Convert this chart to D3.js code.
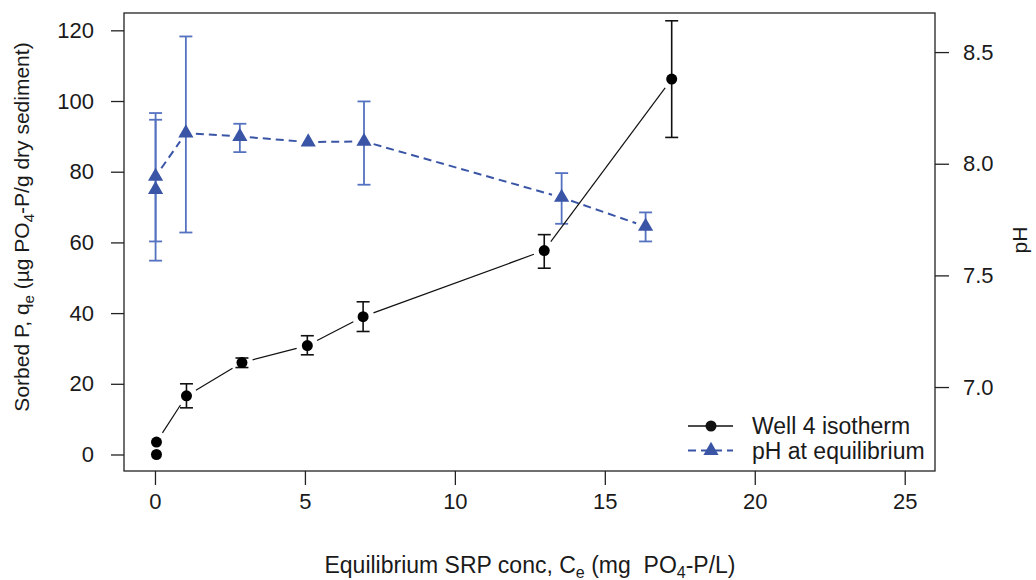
<!DOCTYPE html>
<html lang="en">
  <head>
    <meta charset="utf-8" />
    <title>Well 4 isotherm and pH</title>
    <script src="https://d3js.org/d3.v7.min.js"></script>
    <style>
      body {
        margin: 0;
        background: #fff;
      }
      svg text {
        font-family: "Liberation Sans", Arial, sans-serif;
        fill: #1a1a1a;
      }
    </style>
  </head>
  <body>
    <svg width="1036" height="580"></svg>
    <script>

    // Well 4 isotherm: Ce (mg PO4-P/L) vs sorbed P (ug PO4-P/g)
    var isoX  = [0.05, 0.05, 1.05, 2.90, 5.08, 6.94, 12.98, 17.23];
    var isoY  = [0.0, 3.5, 16.6, 26.0, 30.8, 39.0, 57.7, 106.2];
    var isoLo = [null, null, 13.2, 24.6, 28.2, 34.8, 52.7, 89.7];
    var isoHi = [null, null, 20.0, 27.3, 33.6, 43.2, 62.2, 122.7];

    // pH at equilibrium
    var phX  = [0.02, 0.02, 1.03, 2.83, 5.11, 6.97, 13.56, 16.36];
    var phY  = [7.884, 7.943, 8.137, 8.122, 8.097, 8.100, 7.849, 7.719];
    var phLo = [7.566, 7.652, 7.692, 8.052, null, 7.906, 7.731, 7.652];
    var phHi = [8.227, 8.197, 8.570, 8.179, null, 8.279, 7.958, 7.782];

    var xTicks = [0, 5, 10, 15, 20, 25],
        yTicks = [0, 20, 40, 60, 80, 100, 120],
        pHTicks = [7.0, 7.5, 8.0, 8.5];

    var blue = "#3a55a6",
        blueBar = "#5572c0";

    var svg = d3.select("svg"),
        box = {left: 124, right: 935, top: 13, bottom: 471};

    var x = d3.scaleLinear().domain([-1.033, 26.01]).range([box.left, box.right]),
        y = d3.scaleLinear().domain([-4.67, 124.9]).range([box.bottom, box.top]),
        y2 = d3.scaleLinear().domain([6.624, 8.675]).range([box.bottom, box.top]);

    var iso = isoX.map(function(d, i) {
      return {x: d, y: isoY[i], lo: isoLo[i], hi: isoHi[i]};
    });
    var ph = phX.map(function(d, i) {
      return {x: d, y: phY[i], lo: phLo[i], hi: phHi[i]};
    });

    // axes
    svg.append("g")
        .attr("transform", "translate(0," + box.bottom + ")")
        .call(d3.axisBottom(x).tickValues(xTicks).tickSize(14).tickPadding(8).tickFormat(d3.format("d")))
        .call(styleAxis);

    svg.append("g")
        .attr("transform", "translate(" + box.left + ",0)")
        .call(d3.axisLeft(y).tickValues(yTicks).tickSize(13).tickPadding(17).tickFormat(d3.format("d")))
        .call(styleAxis);

    svg.append("g")
        .attr("transform", "translate(" + box.right + ",0)")
        .call(d3.axisRight(y2).tickValues(pHTicks).tickSize(14).tickPadding(14).tickFormat(d3.format(".1f")))
        .call(styleAxis);

    function styleAxis(g) {
      g.select(".domain").remove();
      g.selectAll(".tick line").attr("stroke", "#222").attr("stroke-width", 1.3);
      g.selectAll(".tick text")
          .attr("font-size", 22)
          .attr("font-family", "Liberation Sans, Arial, sans-serif")
          .attr("fill", "#1a1a1a");
    }

    svg.append("rect")
        .attr("x", box.left)
        .attr("y", box.top)
        .attr("width", box.right - box.left)
        .attr("height", box.bottom - box.top)
        .attr("fill", "none")
        .attr("stroke", "#222")
        .attr("stroke-width", 1.3);

    // axis titles
    var xt = svg.append("text")
        .attr("x", 530)
        .attr("y", 573)
        .attr("text-anchor", "middle")
        .attr("font-size", 23);
    xt.append("tspan").text("Equilibrium SRP conc, C");
    xt.append("tspan").attr("font-size", 16).attr("dy", 5).text("e");
    xt.append("tspan").attr("dy", -5).text(" (mg\u00a0\u00a0PO");
    xt.append("tspan").attr("font-size", 16).attr("dy", 5).text("4");
    xt.append("tspan").attr("dy", -5).text("-P/L)");

    var yt = svg.append("text")
        .attr("transform", "translate(29,227) rotate(-90)")
        .attr("text-anchor", "middle")
        .attr("font-size", 21);
    yt.append("tspan").text("Sorbed P, q");
    yt.append("tspan").attr("font-size", 15).attr("dy", 5).text("e");
    yt.append("tspan").attr("dy", -5).text(" (\u00b5g PO");
    yt.append("tspan").attr("font-size", 15).attr("dy", 5).text("4");
    yt.append("tspan").attr("dy", -5).text("-P/g dry sediment)");

    svg.append("text")
        .attr("transform", "translate(1027,240) rotate(-90)")
        .attr("text-anchor", "middle")
        .attr("font-size", 21)
        .text("pH");

    // lines with gaps around the points (like R type = "b")
    function gapped(data, xs, ys, gap) {
      var segs = [];
      for (var i = 1; i < data.length; i++) {
        var x0 = xs(data[i - 1].x), y0 = ys(data[i - 1].y),
            x1 = xs(data[i].x), y1 = ys(data[i].y),
            len = Math.hypot(x1 - x0, y1 - y0);
        if (len <= 2 * gap) continue;
        var ux = (x1 - x0) / len, uy = (y1 - y0) / len;
        segs.push([x0 + ux * gap, y0 + uy * gap, x1 - ux * gap, y1 - uy * gap]);
      }
      return segs;
    }

    function errorBars(g, data, ys, colour, width) {
      var bars = g.selectAll(null)
          .data(data.filter(function(d) { return d.lo != null; }))
          .enter().append("g")
          .attr("stroke", colour)
          .attr("stroke-width", width);
      bars.append("line")
          .attr("x1", function(d) { return x(d.x); })
          .attr("x2", function(d) { return x(d.x); })
          .attr("y1", function(d) { return ys(d.lo); })
          .attr("y2", function(d) { return ys(d.hi); });
      ["lo", "hi"].forEach(function(k) {
        bars.append("line")
            .attr("x1", function(d) { return x(d.x) - 6.5; })
            .attr("x2", function(d) { return x(d.x) + 6.5; })
            .attr("y1", function(d) { return ys(d[k]); })
            .attr("y2", function(d) { return ys(d[k]); });
      });
    }

    // pH series
    var gp = svg.append("g");
    errorBars(gp, ph, y2, blueBar, 1.8);
    gp.selectAll(".phseg")
        .data(gapped(ph, x, y2, 10))
        .enter().append("line")
        .attr("class", "phseg")
        .attr("x1", function(d) { return d[0]; })
        .attr("y1", function(d) { return d[1]; })
        .attr("x2", function(d) { return d[2]; })
        .attr("y2", function(d) { return d[3]; })
        .attr("stroke", blue)
        .attr("stroke-width", 2)
        .attr("stroke-dasharray", "8,5");
    gp.selectAll(".tri")
        .data(ph)
        .enter().append("path")
        .attr("class", "tri")
        .attr("d", d3.symbol(d3.symbolTriangle, 100))
        .attr("transform", function(d) { return "translate(" + x(d.x) + "," + y2(d.y) + ")"; })
        .attr("fill", blue);

    // isotherm series
    var gi = svg.append("g");
    errorBars(gi, iso, y, "#111", 1.6);
    gi.selectAll(".isoseg")
        .data(gapped(iso, x, y, 11))
        .enter().append("line")
        .attr("class", "isoseg")
        .attr("x1", function(d) { return d[0]; })
        .attr("y1", function(d) { return d[1]; })
        .attr("x2", function(d) { return d[2]; })
        .attr("y2", function(d) { return d[3]; })
        .attr("stroke", "#111")
        .attr("stroke-width", 1.2);
    gi.selectAll(".dot")
        .data(iso)
        .enter().append("circle")
        .attr("class", "dot")
        .attr("cx", function(d) { return x(d.x); })
        .attr("cy", function(d) { return y(d.y); })
        .attr("r", 5.5)
        .attr("fill", "#000");

    // legend
    var legend = [
      {label: "Well 4 isotherm", colour: "#111", dash: null, sym: "circle"},
      {label: "pH at equilibrium", colour: blue, dash: "8,5", sym: "tri"}
    ];
    var lg = svg.append("g").selectAll("g")
        .data(legend)
        .enter().append("g")
        .attr("transform", function(d, i) { return "translate(0," + (426 + i * 24.5) + ")"; });
    lg.append("line")
        .attr("x1", 688).attr("x2", 733)
        .attr("stroke", function(d) { return d.colour; })
        .attr("stroke-width", function(d) { return d.dash ? 2 : 1.3; })
        .attr("stroke-dasharray", function(d) { return d.dash; });
    lg.append("path")
        .attr("transform", "translate(711,0)")
        .attr("d", function(d) {
          return d.sym === "circle" ? d3.symbol(d3.symbolCircle, 95)() : d3.symbol(d3.symbolTriangle, 100)();
        })
        .attr("fill", function(d) { return d.colour; });
    lg.append("text")
        .attr("x", 752)
        .attr("y", 8)
        .attr("font-size", 23)
        .text(function(d) { return d.label; });

    </script>
  </body>
</html>
